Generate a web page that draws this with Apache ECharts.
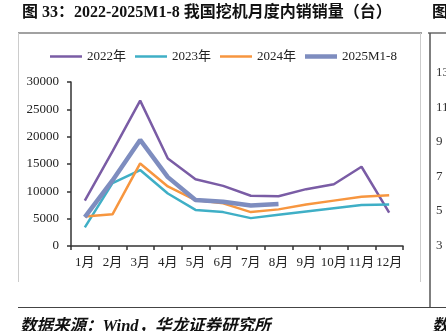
<!DOCTYPE html>
<html><head><meta charset="utf-8">
<script src="https://cdn.jsdelivr.net/npm/echarts@6/dist/echarts.min.js"></script>
<style>html,body{margin:0;padding:0;background:#fff;}#c{width:446px;height:331px;}</style>
</head><body><div id="c"></div>
<script>
const categories = ['1月','2月','3月','4月','5月','6月','7月','8月','9月','10月','11月','12月'];
const s2022 = [8300, 17300, 26600, 16000, 12200, 11000, 9200, 9100, 10400, 11300, 14500, 6100];
const s2023 = [3400, 11500, 13900, 9600, 6600, 6200, 5100, 5700, 6300, 6900, 7500, 7600];
const s2024 = [5400, 5800, 15100, 10900, 8400, 7800, 6200, 6700, 7600, 8300, 9000, 9300];
const s2025 = [5300, 12000, 19400, 12600, 8400, 8100, 7400, 7700];
const seriesNames = ['2022年','2023年','2024年','2025M1-8'];
const yTicks = [0, 5000, 10000, 15000, 20000, 25000, 30000];
const sideTicks = ['13','11','9','7','5','3'];

const serif = "'Liberation Serif','Noto Sans CJK SC',serif";
const colors = ['#7A5CA5', '#3FAFC6', '#F7963F', '#7E8DBF'];
const widths = [2.5, 2.5, 2.5, 4.5];
const chart = echarts.init(document.getElementById('c'));
const mk = (i, data) => ({
  name: seriesNames[i], type: 'line', data, symbol: 'none', smooth: false,
  lineStyle: {color: colors[i], width: widths[i]}, itemStyle: {color: colors[i]}
});
const sideGraphics = sideTicks.map((t, i) => ({
  type: 'text', left: 436, top: 66 + i * 34.6,
  style: {text: t, font: "13px " + serif, fill: '#333'}
}));
chart.setOption({
  animation: false,
  grid: {left: 71, top: 82, width: 332, height: 164, containLabel: false},
  legend: {
    top: 45, left: 45, itemWidth: 32, itemHeight: 10, itemGap: 9,
    textStyle: {fontFamily: serif, fontSize: 13, color: '#222'},
    data: seriesNames.map((n, i) => ({
      name: n,
      icon: 'path://M0,0L32,0L32,' + widths[i] + 'L0,' + widths[i] + 'Z',
      itemStyle: {color: colors[i]}
    }))
  },
  xAxis: {
    type: 'category', data: categories, boundaryGap: true,
    axisLine: {lineStyle: {color: '#333', width: 1.5}},
    axisTick: {show: true, length: 4, lineStyle: {color: '#333', width: 1.5}},
    axisLabel: {fontFamily: serif, fontSize: 13, color: '#222', margin: 10, interval: 0}
  },
  yAxis: {
    type: 'value', min: yTicks[0], max: yTicks[yTicks.length-1], interval: 5000,
    axisLine: {show: true, lineStyle: {color: '#333', width: 1.5}},
    axisTick: {show: true, length: 4, lineStyle: {color: '#333', width: 1.5}},
    splitLine: {show: false},
    axisLabel: {fontFamily: serif, fontSize: 13, color: '#222', margin: 12, formatter: v => String(v)}
  },
  series: [mk(0, s2022), mk(1, s2023), mk(2, s2024), mk(3, s2025)],
  graphic: [
    {type: 'text', left: 22, top: 5, style: {text: '图 33：2022-2025M1-8 我国挖机月度内销销量（台）', font: "bold 16px " + serif, fill: '#111'}},
    {type: 'text', left: 432, top: 5, style: {text: '图', font: "bold 16px " + serif, fill: '#111'}},
    {type: 'line', shape: {x1: 18, y1: 33, x2: 422, y2: 33}, style: {stroke: '#444', lineWidth: 1.2}},
    {type: 'line', shape: {x1: 428, y1: 33, x2: 446, y2: 33}, style: {stroke: '#444', lineWidth: 1.2}},
    {type: 'line', shape: {x1: 18.5, y1: 33, x2: 18.5, y2: 282}, style: {stroke: '#ccc', lineWidth: 1}},
    {type: 'line', shape: {x1: 420.5, y1: 33, x2: 420.5, y2: 282}, style: {stroke: '#ccc', lineWidth: 1}},
    {type: 'line', shape: {x1: 430, y1: 33, x2: 430, y2: 308}, style: {stroke: '#555', lineWidth: 1.5}},
    {type: 'line', shape: {x1: 18, y1: 307.5, x2: 446, y2: 307.5}, style: {stroke: '#444', lineWidth: 1.2}},
    {type: 'text', left: 20, top: 318, style: {text: '数据来源：Wind，华龙证券研究所', font: "italic bold 16.5px " + serif, fill: '#111'}},
    {type: 'text', left: 432, top: 318, style: {text: '数', font: "italic bold 16.5px " + serif, fill: '#111'}}
  ].concat(sideGraphics)
});
</script></body></html>
